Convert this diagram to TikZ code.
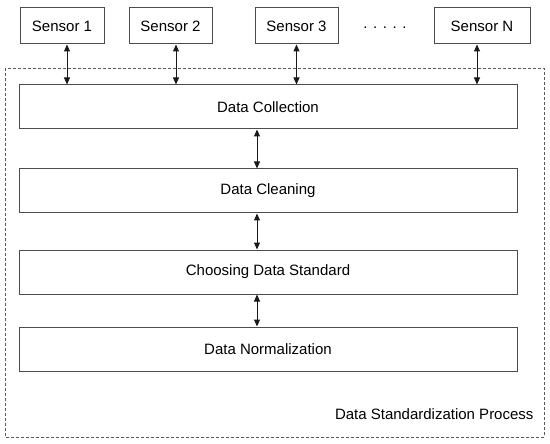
\documentclass[tikz,border=0pt]{standalone}
\usepackage{fontspec}
\setmainfont{Liberation Sans}
\usetikzlibrary{
    arrows.meta,
    positioning
}

\begin{document}
\begin{tikzpicture}[
        x=1pt, y=-1pt,
        every node/.style={font=\fontsize{15}{18}\selectfont, text=black},
        sensor/.style={
            rectangle,
            draw=black!70,
            line width=1pt,
            fill=white,
            minimum height=36pt,
            minimum width=84pt,
            inner sep=2pt
        },
        stage/.style={
            rectangle,
            draw=black!70,
            line width=1pt,
            fill=white,
            minimum height=44pt,
            minimum width=498pt,
            inner sep=2pt
        },
        link/.style={{Triangle[length=7pt,width=6pt]}-{Triangle[length=7pt,width=6pt]},line width=1pt,draw=black!90},
        region/.style={draw=black!65,line width=0.9pt,dash pattern=on 3pt off 2pt}
    ]
        \useasboundingbox (0,0) rectangle (550,444);

        % outer process frame
        \draw[region] (5,68) rectangle (544,437);

        % sensors
        \node[sensor] (s1) at (62,26) {Sensor 1};
        \node[sensor, minimum width=83pt] (s2) at (170.5,26) {Sensor 2};
        \node[sensor, minimum width=83pt] (s3) at (296.5,26) {Sensor 3};
        \node (dots) at (385,28) {. . . . .};
        \node[sensor, minimum width=96pt] (sn) at (482,26) {Sensor N};

        % process stages
        \node[stage] (collect) at (268,107) {Data Collection};
        \node[stage, below=39pt of collect] (clean) {Data Cleaning};
        \node[stage, below=36pt of clean] (choose) {Choosing Data Standard};
        \node[stage, below=32pt of choose] (normal) {Data Normalization};

        \node[anchor=east] (title) at (537,414) {Data Standardization Process};

        \draw[link] ([xshift=5pt]s1.south) -- ([xshift=5pt]s1.south |- collect.north);
        \draw[link] ([xshift=5.5pt]s2.south) -- ([xshift=5.5pt]s2.south |- collect.north);
        \draw[link] (s3.south) -- (s3.south |- collect.north);
        \draw[link] ([xshift=-5pt]sn.south) -- ([xshift=-5pt]sn.south |- collect.north);
        \draw[link] ([xshift=-11pt]collect.south) -- ([xshift=-11pt]clean.north);
        \draw[link] ([xshift=-11pt]clean.south) -- ([xshift=-11pt]choose.north);
        \draw[link] ([xshift=-11pt]choose.south) -- ([xshift=-11pt]normal.north);
    \end{tikzpicture}
\end{document}
